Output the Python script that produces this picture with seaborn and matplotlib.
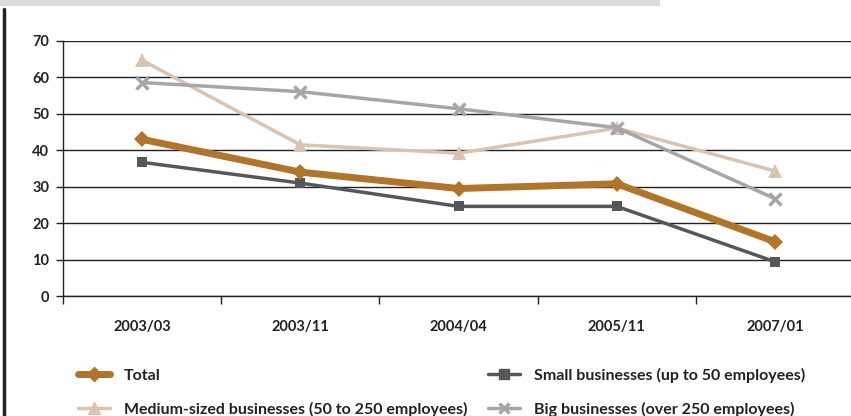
import matplotlib
matplotlib.use("Agg")
import matplotlib.pyplot as plt
import matplotlib.lines as mlines
import seaborn as sns
import pandas as pd
import numpy as np

categories = ["2003/03", "2003/11", "2004/04", "2005/11", "2007/01"]
total = [43.0, 34.0, 29.5, 30.8, 14.9]
small = [36.7, 31.0, 24.6, 24.6, 9.4]
medium = [64.7, 41.5, 39.2, 46.1, 34.3]
big = [58.6, 56.1, 51.4, 46.2, 26.7]
yticks = [0, 10, 20, 30, 40, 50, 60, 70]

labels = ["Total", "Small businesses (up to 50 employees)",
          "Medium-sized businesses (50 to 250 employees)",
          "Big businesses (over 250 employees)"]

sns.set_theme(style="white")
plt.rcParams['font.family'] = ['Lato', 'DejaVu Sans']
plt.rcParams['font.weight'] = 'bold'

FS = 10.5
LFS = 11.5
fig = plt.figure(figsize=(8.51, 4.16), dpi=100)
ax = fig.add_axes([63/851, 1-296/416, 1-63/851, (296-41)/416])

x = np.arange(len(categories))
styles = [
    (medium, "#d9c3b1", "^", 2.5, 10, 0),
    (big, "#a6a6aa", "x", 2.5, 8, 2.5),
    (small, "#555759", "s", 2.5, 7.5, 0),
    (total, "#b0742a", "D", 5, 8, 0),
]
for vals, col, mk, lw, ms, mew in styles:
    df = pd.DataFrame({"x": x, "y": vals})
    sns.lineplot(data=df, x="x", y="y", ax=ax, color=col, marker=mk,
                 linewidth=lw, markersize=ms, markeredgewidth=mew,
                 markeredgecolor=col, legend=False)

ax.set_ylim(0, 70)
ax.set_xlim(-0.5, 4.48)
ax.set_yticks(yticks)
ax.set_yticklabels([str(t) for t in yticks], fontsize=FS, fontweight='bold')
ax.set_xticks(x)
ax.set_xticklabels(categories, fontsize=FS, fontweight='bold')
ax.set_xticks(np.arange(-0.5, 4.0, 1.0), minor=True)
ax.tick_params(axis='x', which='major', length=0, pad=17)
ax.tick_params(axis='x', which='minor', length=6, width=1, color='#222222', direction='out', bottom=True)
ax.tick_params(axis='y', which='major', length=5, width=1, color='#222222', pad=5, left=True)
ax.set_xlabel("")
ax.set_ylabel("")
ax.grid(axis='y', color='#222222', linewidth=1)
ax.grid(axis='x', visible=False)
ax.set_axisbelow(True)
for s in ['top', 'right']:
    ax.spines[s].set_visible(False)
for s in ['bottom', 'left']:
    ax.spines[s].set_color('#222222')
    ax.spines[s].set_linewidth(1)
for t in ax.get_yticklabels() + ax.get_xticklabels():
    t.set_color('#222222')

# legend
h_total = mlines.Line2D([], [], color="#b0742a", marker="D", lw=5, ms=7)
h_small = mlines.Line2D([], [], color="#555759", marker="s", lw=2.5, ms=7)
h_med = mlines.Line2D([], [], color="#d9c3b1", marker="^", lw=2.5, ms=8)
h_big = mlines.Line2D([], [], color="#a6a6aa", marker="x", lw=2.5, ms=7, mew=2.5)
leg = fig.legend([h_total, h_med, h_small, h_big],
                 [labels[0], labels[2], labels[1], labels[3]],
                 ncol=2, loc='upper left', bbox_to_anchor=(73/851, 1-363/416),
                 frameon=False, fontsize=LFS, handlelength=2.0,
                 columnspacing=1.25, labelspacing=1.18, handletextpad=0.9,
                 borderaxespad=0, borderpad=0.3)
for t in leg.get_texts():
    t.set_fontweight('bold')
    t.set_color('#222222')

# decorative frame elements
fig.add_artist(mlines.Line2D([4/851, 4/851], [0, 1-9/416], color='#222222', lw=2.5,
                             transform=fig.transFigure))
fig.add_artist(plt.Rectangle((0, 1-6/416), 660/851, 6/416, color='#dcdcdc',
                             transform=fig.transFigure, lw=0))

fig.savefig("out.png", dpi=100)
